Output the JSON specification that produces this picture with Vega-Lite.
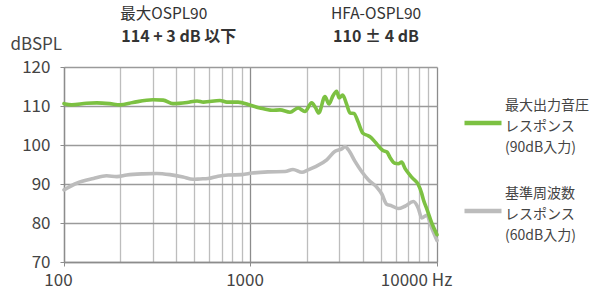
{
  "$schema": "https://vega.github.io/schema/vega-lite/v6.json",
  "width": 373,
  "height": 195,
  "autosize": {"type": "none"},
  "padding": {"left": 64, "top": 67, "right": 173, "bottom": 33},
  "background": "white",
  "config": {"view": {"stroke": null}, "font": "Noto Sans CJK JP", "axis": {"labelOverlap": false}},
  "resolve": {"axis": {"x": "independent", "y": "independent"}},
  "datasets": {
    "curves": [
      {"series": "基準周波数 レスポンス (60dB入力)", "freq": 100, "db": 88.5},
      {"series": "基準周波数 レスポンス (60dB入力)", "freq": 117, "db": 90.2},
      {"series": "基準周波数 レスポンス (60dB入力)", "freq": 144, "db": 91.4},
      {"series": "基準周波数 レスポンス (60dB入力)", "freq": 169, "db": 92.1},
      {"series": "基準周波数 レスポンス (60dB入力)", "freq": 192, "db": 91.9},
      {"series": "基準周波数 レスポンス (60dB入力)", "freq": 217, "db": 92.3},
      {"series": "基準周波数 レスポンス (60dB入力)", "freq": 265, "db": 92.6},
      {"series": "基準周波数 レスポンス (60dB入力)", "freq": 314, "db": 92.7},
      {"series": "基準周波数 レスポンス (60dB入力)", "freq": 370, "db": 92.4},
      {"series": "基準周波数 レスポンス (60dB入力)", "freq": 435, "db": 91.8},
      {"series": "基準周波数 レスポンス (60dB入力)", "freq": 492, "db": 91.2},
      {"series": "基準周波数 レスポンス (60dB入力)", "freq": 536, "db": 91.3},
      {"series": "基準周波数 レスポンス (60dB入力)", "freq": 592, "db": 91.4},
      {"series": "基準周波数 レスポンス (60dB入力)", "freq": 670, "db": 92.0},
      {"series": "基準周波数 レスポンス (60dB入力)", "freq": 758, "db": 92.3},
      {"series": "基準周波数 レスポンス (60dB入力)", "freq": 900, "db": 92.4},
      {"series": "基準周波数 レスポンス (60dB入力)", "freq": 1019, "db": 92.8},
      {"series": "基準周波数 レスポンス (60dB入力)", "freq": 1241, "db": 93.1},
      {"series": "基準周波数 レスポンス (60dB入力)", "freq": 1531, "db": 93.2},
      {"series": "基準周波数 レスポンス (60dB入力)", "freq": 1690, "db": 93.7},
      {"series": "基準周波数 レスポンス (60dB入力)", "freq": 1888, "db": 93.0},
      {"series": "基準周波数 レスポンス (60dB入力)", "freq": 2033, "db": 93.6},
      {"series": "基準周波数 レスポンス (60dB入力)", "freq": 2218, "db": 94.4},
      {"series": "基準周波数 レスポンス (60dB入力)", "freq": 2564, "db": 96.2},
      {"series": "基準周波数 レスポンス (60dB入力)", "freq": 2840, "db": 98.4},
      {"series": "基準周波数 レスポンス (60dB入力)", "freq": 3084, "db": 99.0},
      {"series": "基準周波数 レスポンス (60dB入力)", "freq": 3212, "db": 99.6},
      {"series": "基準周波数 レスポンス (60dB入力)", "freq": 3345, "db": 98.8},
      {"series": "基準周波数 レスポンス (60dB入力)", "freq": 3634, "db": 95.8},
      {"series": "基準周波数 レスポンス (60dB入力)", "freq": 3944, "db": 93.2},
      {"series": "基準周波数 レスポンス (60dB入力)", "freq": 4282, "db": 91.1},
      {"series": "基準周波数 レスポンス (60dB入力)", "freq": 4751, "db": 89.2},
      {"series": "基準周波数 レスポンス (60dB入力)", "freq": 5051, "db": 87.5},
      {"series": "基準周波数 レスポンス (60dB入力)", "freq": 5370, "db": 84.8},
      {"series": "基準周波数 レスポンス (60dB入力)", "freq": 5713, "db": 84.4},
      {"series": "基準周波数 レスポンス (60dB入力)", "freq": 6200, "db": 83.7},
      {"series": "基準周波数 レスポンス (60dB入力)", "freq": 6734, "db": 84.3},
      {"series": "基準周波数 レスポンス (60dB入力)", "freq": 7463, "db": 85.5},
      {"series": "基準周波数 レスポンス (60dB入力)", "freq": 7936, "db": 83.8},
      {"series": "基準周波数 レスポンス (60dB入力)", "freq": 8275, "db": 81.3},
      {"series": "基準周波数 レスポンス (60dB入力)", "freq": 8813, "db": 82.0},
      {"series": "基準周波数 レスポンス (60dB入力)", "freq": 9370, "db": 78.7},
      {"series": "基準周波数 レスポンス (60dB入力)", "freq": 10000, "db": 75.5},
      {"series": "最大出力音圧 レスポンス (90dB入力)", "freq": 100, "db": 110.6},
      {"series": "最大出力音圧 レスポンス (90dB入力)", "freq": 110, "db": 110.3},
      {"series": "最大出力音圧 レスポンス (90dB入力)", "freq": 132, "db": 110.7},
      {"series": "最大出力音圧 レスポンス (90dB入力)", "freq": 150, "db": 110.8},
      {"series": "最大出力音圧 レスポンス (90dB入力)", "freq": 176, "db": 110.6},
      {"series": "最大出力音圧 レスポンス (90dB入力)", "freq": 200, "db": 110.3},
      {"series": "最大出力音圧 レスポンス (90dB入力)", "freq": 234, "db": 110.9},
      {"series": "最大出力音圧 レスポンス (90dB入力)", "freq": 300, "db": 111.6},
      {"series": "最大出力音圧 レスポンス (90dB入力)", "freq": 340, "db": 111.5},
      {"series": "最大出力音圧 レスポンス (90dB入力)", "freq": 384, "db": 110.6},
      {"series": "最大出力音圧 レスポンス (90dB入力)", "freq": 457, "db": 110.9},
      {"series": "最大出力音圧 レスポンス (90dB入力)", "freq": 517, "db": 111.3},
      {"series": "最大出力音圧 レスポンス (90dB入力)", "freq": 560, "db": 111.0},
      {"series": "最大出力音圧 レスポンス (90dB入力)", "freq": 686, "db": 111.4},
      {"series": "最大出力音圧 レスポンス (90dB入力)", "freq": 748, "db": 111.0},
      {"series": "最大出力音圧 レスポンス (90dB入力)", "freq": 857, "db": 111.0},
      {"series": "最大出力音圧 レスポンス (90dB入力)", "freq": 1000, "db": 110.2},
      {"series": "最大出力音圧 レスポンス (90dB入力)", "freq": 1124, "db": 109.5},
      {"series": "最大出力音圧 レスポンス (90dB入力)", "freq": 1304, "db": 108.9},
      {"series": "最大出力音圧 レスポンス (90dB入力)", "freq": 1439, "db": 109.0},
      {"series": "最大出力音圧 レスポンス (90dB入力)", "freq": 1629, "db": 108.4},
      {"series": "最大出力音圧 レスポンス (90dB入力)", "freq": 1798, "db": 109.5},
      {"series": "最大出力音圧 レスポンス (90dB入力)", "freq": 1959, "db": 108.6},
      {"series": "最大出力音圧 レスポンス (90dB入力)", "freq": 2128, "db": 110.8},
      {"series": "最大出力音圧 レスポンス (90dB入力)", "freq": 2230, "db": 109.6},
      {"series": "最大出力音圧 レスポンス (90dB入力)", "freq": 2320, "db": 108.2},
      {"series": "最大出力音圧 レスポンス (90dB入力)", "freq": 2508, "db": 112.4},
      {"series": "最大出力音圧 レスポンス (90dB入力)", "freq": 2637, "db": 110.5},
      {"series": "最大出力音圧 レスポンス (90dB入力)", "freq": 2760, "db": 112.5},
      {"series": "最大出力音圧 レスポンス (90dB入力)", "freq": 2899, "db": 113.8},
      {"series": "最大出力音圧 レスポンス (90dB入力)", "freq": 2985, "db": 112.1},
      {"series": "最大出力音圧 レスポンス (90dB入力)", "freq": 3122, "db": 112.8},
      {"series": "最大出力音圧 レスポンス (90dB入力)", "freq": 3279, "db": 110.4},
      {"series": "最大出力音圧 レスポンス (90dB入力)", "freq": 3417, "db": 108.2},
      {"series": "最大出力音圧 レスポンス (90dB入力)", "freq": 3590, "db": 108.1},
      {"series": "最大出力音圧 レスポンス (90dB入力)", "freq": 3768, "db": 106.0},
      {"series": "最大出力音圧 レスポンス (90dB入力)", "freq": 4008, "db": 103.0},
      {"series": "最大出力音圧 レスポンス (90dB入力)", "freq": 4265, "db": 102.4},
      {"series": "最大出力音圧 レスポンス (90dB入力)", "freq": 4374, "db": 102.1},
      {"series": "最大出力音圧 レスポンス (90dB入力)", "freq": 4652, "db": 100.8},
      {"series": "最大出力音圧 レスポンス (90dB入力)", "freq": 4948, "db": 99.3},
      {"series": "最大出力音圧 レスポンス (90dB入力)", "freq": 5129, "db": 98.6},
      {"series": "最大出力音圧 レスポンス (90dB入力)", "freq": 5392, "db": 98.2},
      {"series": "最大出力音圧 レスポンス (90dB入力)", "freq": 5597, "db": 96.8},
      {"series": "最大出力音圧 レスポンス (90dB入力)", "freq": 5952, "db": 95.3},
      {"series": "最大出力音圧 レスポンス (90dB入力)", "freq": 6200, "db": 95.2},
      {"series": "最大出力音圧 レスポンス (90dB入力)", "freq": 6465, "db": 95.6},
      {"series": "最大出力音圧 レスポンス (90dB入力)", "freq": 6734, "db": 94.0},
      {"series": "最大出力音圧 レスポンス (90dB入力)", "freq": 7161, "db": 92.3},
      {"series": "最大出力音圧 レスポンス (90dB入力)", "freq": 7463, "db": 91.3},
      {"series": "最大出力音圧 レスポンス (90dB入力)", "freq": 7907, "db": 90.0},
      {"series": "最大出力音圧 レスポンス (90dB入力)", "freq": 8275, "db": 87.6},
      {"series": "最大出力音圧 レスポンス (90dB入力)", "freq": 8449, "db": 86.0},
      {"series": "最大出力音圧 レスポンス (90dB入力)", "freq": 8836, "db": 83.5},
      {"series": "最大出力音圧 レスポンス (90dB入力)", "freq": 9370, "db": 80.0},
      {"series": "最大出力音圧 レスポンス (90dB入力)", "freq": 10000, "db": 77.0}
    ]
  },
  "layer": [
    {
      "data": {"name": "curves"},
      "mark": {"type": "line", "strokeWidth": 3.6, "interpolate": "monotone", "strokeCap": "round", "strokeJoin": "round"},
      "encoding": {
        "x": {
          "field": "freq",
          "type": "quantitative",
          "scale": {"type": "log", "domain": [100, 10000], "nice": false},
          "axis": {
            "title": null,
            "values": [100, 200, 300, 400, 500, 600, 700, 800, 900, 1000, 2000, 3000, 4000, 5000, 6000, 7000, 8000, 9000, 10000],
            "labelExpr": "datum.value == 10000 ? '10000 Hz' : (datum.value == 100 || datum.value == 1000) ? format(datum.value, 'd') : ''",
            "labelOverlap": false,
            "labelFlush": false,
            "labelFontSize": 17,
            "labelColor": "#444444",
            "labelPadding": 6,
            "labelBaseline": "top",
            "labelOffset": {"condition": {"test": "datum.value == 10000", "value": -21}, "value": -6},
            "grid": true,
            "gridColor": {"condition": {"test": "datum.value == 100 || datum.value == 1000 || datum.value == 10000", "value": "#8c8c8c"}, "value": "#bdbdbd"},
            "gridWidth": 1.3,
            "domainColor": "#8c8c8c",
            "domainWidth": 1.3,
            "tickColor": "#8c8c8c",
            "tickSize": 4,
            "tickOpacity": {"condition": {"test": "datum.value == 100 || datum.value == 1000 || datum.value == 10000", "value": 1}, "value": 0}
          }
        },
        "y": {
          "field": "db",
          "type": "quantitative",
          "scale": {"domain": [70, 120], "nice": false, "zero": false},
          "axis": {
            "title": "dBSPL",
            "titleAngle": 0,
            "titleAlign": "left",
            "titleBaseline": "middle",
            "titleX": -54,
            "titleY": -23,
            "titleFontSize": 17,
            "titleFontWeight": "normal",
            "titleColor": "#444444",
            "values": [70, 80, 90, 100, 110, 120],
            "labelOverlap": false,
            "labelFlush": false,
            "labelFontSize": 17,
            "labelColor": "#444444",
            "labelPadding": 10,
            "grid": true,
            "gridColor": "#9a9a9a",
            "gridWidth": 1.3,
            "domainColor": "#8c8c8c",
            "domainWidth": 1.3,
            "tickColor": "#8c8c8c",
            "tickSize": 4
          }
        },
        "color": {
          "field": "series",
          "type": "nominal",
          "scale": {
            "domain": ["最大出力音圧 レスポンス (90dB入力)", "基準周波数 レスポンス (60dB入力)"],
            "range": ["#7cc142", "#bcbcbc"]
          },
          "legend": {
            "orient": "none",
            "legendX": 398,
            "legendY": 35,
            "title": null,
            "symbolType": "stroke",
            "symbolSize": 1369,
            "symbolStrokeWidth": 4.5,
            "labelFontSize": 14,
            "labelColor": "#444444",
            "labelOffset": 1,
            "labelLimit": 200,
            "rowPadding": 32,
            "labelExpr": "split(datum.label, ' ')",
            "encode": {
              "labels": {"update": {"lineHeight": {"value": 21}, "dy": {"value": -17}}},
              "symbols": {"update": {"stroke": {"signal": "indexof(datum.value, '最大') == 0 ? '#7cc142' : '#8f8f89'"}}}
            }
          }
        }
      }
    },
    {
      "data": {"values": [{}]},
      "mark": {"type": "text", "align": "left", "baseline": "middle", "fontSize": 15.5, "color": "#333333"},
      "encoding": {"x": {"datum": 200, "type": "quantitative", "axis": null}, "y": {"datum": 133.6, "type": "quantitative", "axis": null}, "text": {"value": "最大OSPL90"}}
    },
    {
      "data": {"values": [{}]},
      "mark": {"type": "text", "align": "left", "baseline": "middle", "fontSize": 16, "fontWeight": "bold", "color": "#333333"},
      "encoding": {"x": {"datum": 203, "type": "quantitative", "axis": null}, "y": {"datum": 127.7, "type": "quantitative", "axis": null}, "text": {"value": "114 + 3 dB 以下"}}
    },
    {
      "data": {"values": [{}]},
      "mark": {"type": "text", "align": "center", "baseline": "middle", "fontSize": 15.5, "color": "#333333"},
      "encoding": {"x": {"datum": 4710, "type": "quantitative", "axis": null}, "y": {"datum": 133.6, "type": "quantitative", "axis": null}, "text": {"value": "HFA-OSPL90"}}
    },
    {
      "data": {"values": [{}]},
      "mark": {"type": "text", "align": "center", "baseline": "middle", "fontSize": 16, "fontWeight": "bold", "color": "#333333"},
      "encoding": {"x": {"datum": 4710, "type": "quantitative", "axis": null}, "y": {"datum": 127.7, "type": "quantitative", "axis": null}, "text": {"value": "110 ± 4 dB"}}
    }
  ]
}
